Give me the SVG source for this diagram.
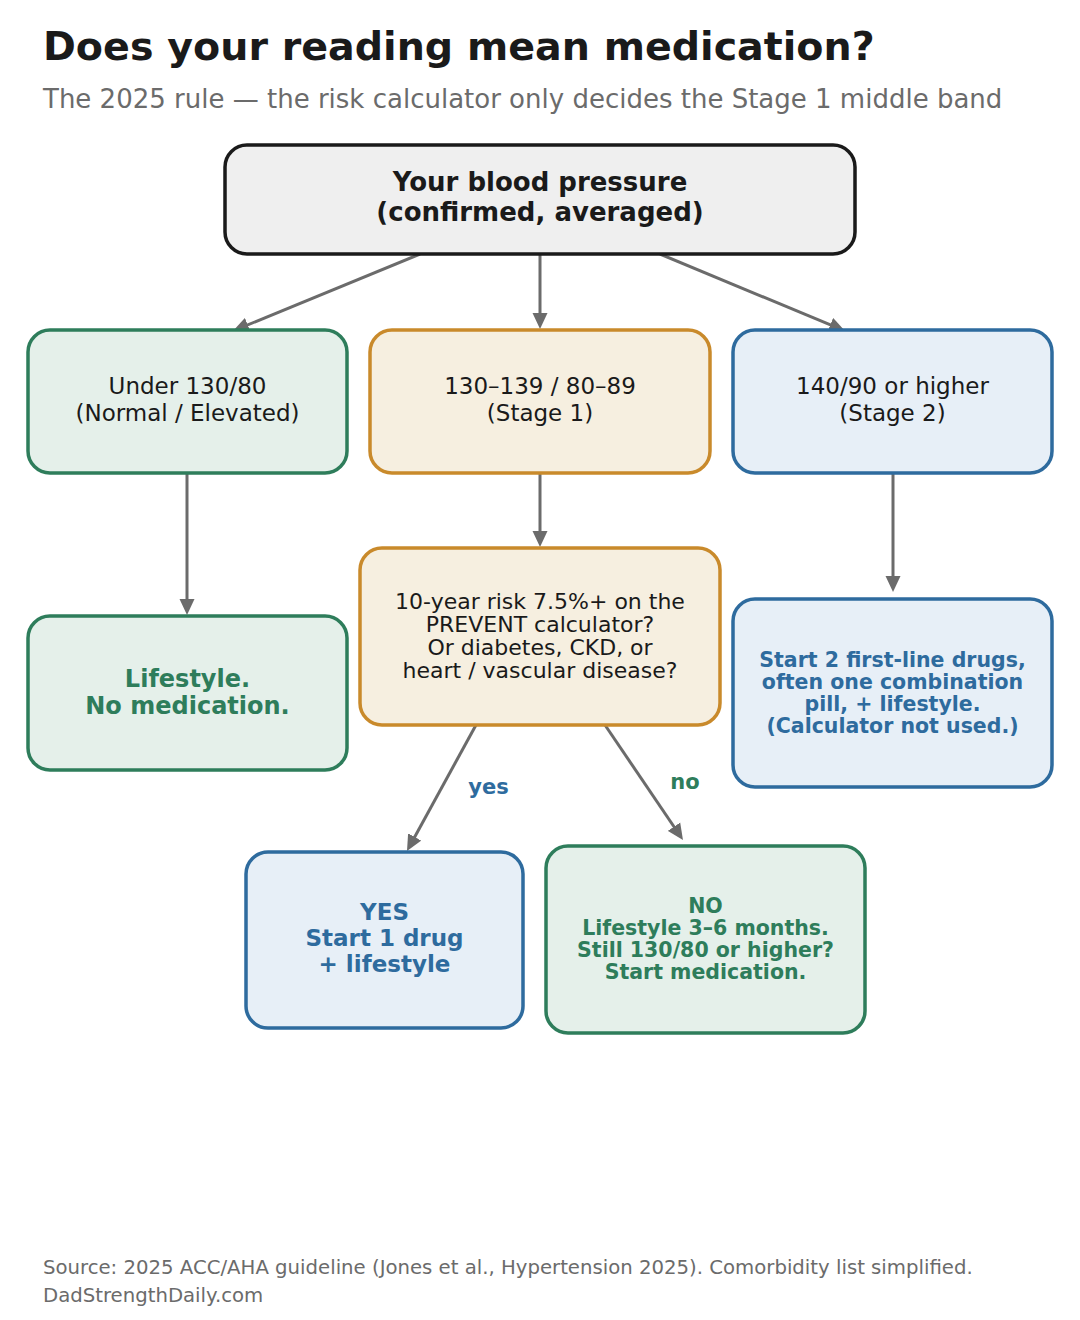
<svg xmlns="http://www.w3.org/2000/svg" width="1080" height="1320" viewBox="0 0 1080 1320">
<defs>
<style>
text{font-family:"DejaVu Sans","Liberation Sans",sans-serif;text-anchor:middle}
.title{font-size:39.6px;font-weight:bold;fill:#1a1a1a;text-anchor:start}
.sub{font-size:26px;fill:#6b6b6b;text-anchor:start}
.foot{font-size:19.7px;fill:#6b6b6b;text-anchor:start}
.box{stroke-width:3.5}
.top{fill:#efefef;stroke:#1a1a1a}
.g{fill:#e5f0ea;stroke:#2e7d5b}
.o{fill:#f6efe0;stroke:#c98a2b}
.b{fill:#e7eff7;stroke:#2e6b9e}
.dark{fill:#1a1a1a;font-size:22px}
.dark2{fill:#1a1a1a;font-size:23px}
.gt{fill:#2e7d5b;font-weight:bold}
.bt{fill:#2e6b9e;font-weight:bold}
.edge{stroke:#6b6b6b;stroke-width:3;fill:none;marker-end:url(#ah)}
</style>
<marker id="ah" viewBox="0 0 16 16" markerWidth="16" markerHeight="16" markerUnits="userSpaceOnUse" refX="10" refY="8" orient="auto">
<path d="M0,0.5 L16,8 L0,15.5 z" fill="#6b6b6b"/>
</marker>
</defs>
<rect width="1080" height="1320" fill="#ffffff"/>
<text class="title" x="43" y="60">Does your reading mean medication?</text>
<text class="sub" x="43" y="108">The 2025 rule — the risk calculator only decides the Stage 1 middle band</text>

<g id="connectors">
<line class="edge" x1="420" y1="254" x2="238.5" y2="328.7"/>
<line class="edge" x1="540" y1="254" x2="540" y2="323"/>
<line class="edge" x1="660" y1="254" x2="839.5" y2="328.7"/>
<line class="edge" x1="187" y1="473" x2="187" y2="609"/>
<line class="edge" x1="540" y1="473" x2="540" y2="541"/>
<line class="edge" x1="893" y1="473" x2="893" y2="586"/>
<line class="edge" x1="476" y1="725" x2="409.9" y2="845.7"/>
<line class="edge" x1="605" y1="725" x2="679.6" y2="835"/>
<text class="bt" x="488.5" y="794" font-size="21">yes</text>
<text class="gt" x="685" y="789" font-size="21">no</text>
</g>

<g id="node-bp">
<rect class="box top" x="225" y="145" width="630" height="109" rx="22"/>
<text x="540" y="191" font-size="26" font-weight="bold" fill="#1a1a1a">Your blood pressure</text>
<text x="540" y="221" font-size="26" font-weight="bold" fill="#1a1a1a">(confirmed, averaged)</text>
</g>

<g id="node-under">
<rect class="box g" x="28" y="330" width="319" height="143" rx="22"/>
<text class="dark2" x="187.5" y="394">Under 130/80</text>
<text class="dark2" x="187.5" y="421">(Normal / Elevated)</text>
</g>

<g id="node-stage1">
<rect class="box o" x="370" y="330" width="340" height="143" rx="22"/>
<text class="dark2" x="540" y="394">130–139 / 80–89</text>
<text class="dark2" x="540" y="421">(Stage 1)</text>
</g>

<g id="node-stage2">
<rect class="box b" x="733" y="330" width="319" height="143" rx="22"/>
<text class="dark2" x="892.5" y="394">140/90 or higher</text>
<text class="dark2" x="892.5" y="421">(Stage 2)</text>
</g>

<g id="node-lifestyle">
<rect class="box g" x="28" y="616" width="319" height="154" rx="22"/>
<text class="gt" x="187.5" y="687" font-size="24">Lifestyle.</text>
<text class="gt" x="187.5" y="714" font-size="24">No medication.</text>
</g>

<g id="node-risk">
<rect class="box o" x="360" y="548" width="360" height="177" rx="22"/>
<text class="dark" x="540" y="609">10-year risk 7.5%+ on the</text>
<text class="dark" x="540" y="632">PREVENT calculator?</text>
<text class="dark" x="540" y="655">Or diabetes, CKD, or</text>
<text class="dark" x="540" y="678">heart / vascular disease?</text>
</g>

<g id="node-two-drugs">
<rect class="box b" x="733" y="599" width="319" height="188" rx="22"/>
<text class="bt" x="892.5" y="667" font-size="20.5">Start 2 first-line drugs,</text>
<text class="bt" x="892.5" y="689" font-size="20.5">often one combination</text>
<text class="bt" x="892.5" y="711" font-size="20.5">pill, + lifestyle.</text>
<text class="bt" x="892.5" y="733" font-size="20.5">(Calculator not used.)</text>
</g>

<g id="node-yes">
<rect class="box b" x="246" y="852" width="277" height="176" rx="22"/>
<text class="bt" x="384.5" y="920" font-size="23">YES</text>
<text class="bt" x="384.5" y="946" font-size="23">Start 1 drug</text>
<text class="bt" x="384.5" y="972" font-size="23">+ lifestyle</text>
</g>

<g id="node-no">
<rect class="box g" x="546" y="846" width="319" height="187" rx="22"/>
<text class="gt" x="705.5" y="913" font-size="20.5">NO</text>
<text class="gt" x="705.5" y="935" font-size="20.5">Lifestyle 3–6 months.</text>
<text class="gt" x="705.5" y="957" font-size="20.5">Still 130/80 or higher?</text>
<text class="gt" x="705.5" y="979" font-size="20.5">Start medication.</text>
</g>

<text class="foot" x="43" y="1274">Source: 2025 ACC/AHA guideline (Jones et al., Hypertension 2025). Comorbidity list simplified.</text>
<text class="foot" x="43" y="1302">DadStrengthDaily.com</text>
</svg>
